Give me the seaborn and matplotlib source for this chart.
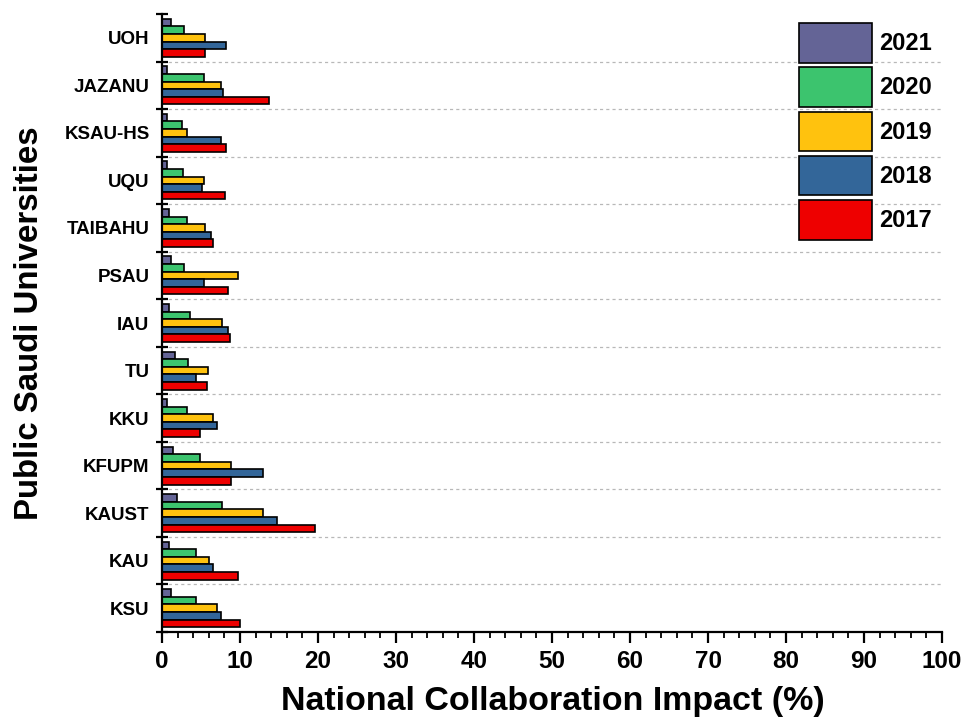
import numpy as np
import pandas as pd
import matplotlib
matplotlib.use("Agg")
import matplotlib.pyplot as plt
import matplotlib.patches as mpatches
from matplotlib.ticker import MultipleLocator, FixedLocator
import seaborn as sns

# Universities, listed top to bottom
universities = ["UOH", "JAZANU", "KSAU-HS", "UQU", "TAIBAHU", "PSAU", "IAU",
                "TU", "KKU", "KFUPM", "KAUST", "KAU", "KSU"]
years = ["2021", "2020", "2019", "2018", "2017"]

# National collaboration impact (%) per university, one list per year
impact_2021 = [1.1, 0.7, 0.6, 0.7, 0.9, 1.2, 0.9, 1.7, 0.7, 1.4, 1.9, 0.9, 1.1]
impact_2020 = [2.8, 5.4, 2.5, 2.7, 3.2, 2.8, 3.6, 3.3, 3.2, 4.9, 7.7, 4.4, 4.3]
impact_2019 = [5.5, 7.6, 3.2, 5.4, 5.5, 9.7, 7.7, 5.9, 6.6, 8.8, 12.9, 6.0, 7.1]
impact_2018 = [8.2, 7.8, 7.5, 5.1, 6.3, 5.4, 8.5, 4.4, 7.0, 13.0, 14.7, 6.6, 7.5]
impact_2017 = [5.5, 13.7, 8.2, 8.1, 6.6, 8.4, 8.7, 5.8, 4.9, 8.8, 19.6, 9.8, 10.0]

colors = ["#646496", "#3cc46e", "#ffc20e", "#336699", "#ee0000"]

series = dict(zip(years, [impact_2021, impact_2020, impact_2019, impact_2018, impact_2017]))
df = pd.DataFrame([
    {"University": u, "Year": y, "Impact": v}
    for y, vals in series.items()
    for u, v in zip(universities, vals)
])

sns.set_style("ticks")
plt.rcParams["font.family"] = ["Liberation Sans", "DejaVu Sans"]
plt.rcParams["font.weight"] = "bold"
for key in ("text.color", "axes.labelcolor", "xtick.color", "ytick.color",
            "xtick.labelcolor", "ytick.labelcolor", "axes.edgecolor"):
    plt.rcParams[key] = "black"

fig = plt.figure(figsize=(9.75, 7.27), dpi=100)
ax = fig.add_axes([162 / 975, 1 - 632 / 727, 780 / 975, 618 / 727])

sns.barplot(data=df, x="Impact", y="University", hue="Year",
            order=universities, hue_order=years, palette=colors, saturation=1,
            orient="h", width=0.8, edgecolor="black", linewidth=1.2,
            errorbar=None, legend=False, ax=ax)

# group separators
for b in np.arange(0.5, len(universities) - 1, 1.0):
    ax.axhline(b, color="#b8b8b8", lw=0.9, ls=(0, (2.5, 2.5)), zorder=0)

ax.set_xlim(0, 100)
ax.set_ylim(len(universities) - 0.5, -0.5)
ax.xaxis.set_major_locator(MultipleLocator(10))
ax.xaxis.set_minor_locator(MultipleLocator(2))
ax.yaxis.set_minor_locator(FixedLocator(np.arange(-0.5, len(universities), 1.0)))

for side in ("top", "right"):
    ax.spines[side].set_visible(False)
for side in ("left", "bottom"):
    ax.spines[side].set_linewidth(1.6)
    ax.spines[side].set_color("black")

ax.tick_params(axis="x", which="major", direction="out", length=8, width=1.6,
               labelsize=17.5, pad=5, color="black", labelcolor="black")
ax.tick_params(axis="x", which="minor", direction="out", length=4, width=1.3, color="black")
ax.tick_params(axis="y", which="major", length=0, labelsize=13.5, pad=9, labelcolor="black")
ax.tick_params(axis="y", which="minor", direction="inout", length=8, width=1.6, color="black")
for lbl in ax.get_xticklabels() + ax.get_yticklabels():
    lbl.set_fontweight("bold")

ax.set_xlabel("National Collaboration Impact (%)", fontsize=24.5, fontweight="bold", color="black")
ax.set_ylabel("Public Saudi Universities", fontsize=23.8, fontweight="bold", color="black")
ax.xaxis.set_label_coords(0.501, -0.088)
ax.yaxis.set_label_coords(-0.15, 0.5)

handles = [mpatches.Patch(facecolor=c, edgecolor="black", linewidth=1.2) for c in colors]
fig.legend(handles, years, loc="upper left", bbox_to_anchor=(799 / 975, 1 - 23 / 727),
           frameon=False, borderpad=0, borderaxespad=0,
           handlelength=3.1, handleheight=2.2, labelspacing=0.2, handletextpad=0.3,
           prop={"size": 17, "weight": "bold"})

fig.savefig("out.png", dpi=100)
